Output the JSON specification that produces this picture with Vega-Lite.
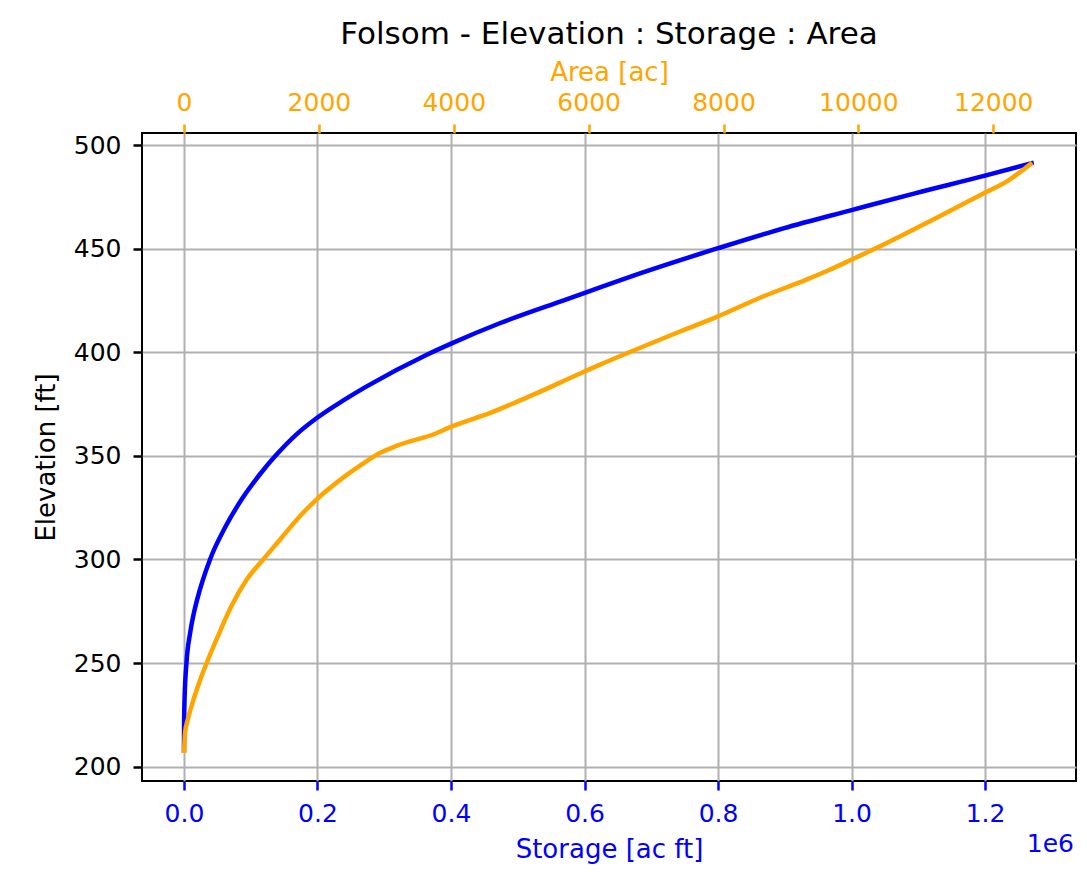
{
  "$schema": "https://vega.github.io/schema/vega-lite/v6.json",
  "autosize": {"type": "none"},
  "padding": {"left": 142, "top": 133, "right": 11, "bottom": 94},
  "width": 934,
  "height": 648,
  "background": "white",
  "config": {
    "font": "DejaVu Sans",
    "view": {"stroke": "black", "strokeWidth": 2},
    "axis": {
      "labelFont": "DejaVu Sans",
      "titleFont": "DejaVu Sans",
      "labelFontSize": 25,
      "titleFontSize": 26,
      "titleFontWeight": "normal",
      "domain": false,
      "gridColor": "#b0b0b0",
      "gridWidth": 2,
      "gridOpacity": 1,
      "tickSize": 9,
      "tickWidth": 2.5
    }
  },
  "title": {
    "text": "Folsom - Elevation : Storage : Area",
    "fontSize": 31,
    "font": "DejaVu Sans",
    "fontWeight": "normal",
    "color": "black",
    "offset": 8
  },
  "datasets": {
    "storage": [
      {"elevation": 206.7, "storage": 0},
      {"elevation": 218, "storage": 100},
      {"elevation": 232, "storage": 800},
      {"elevation": 250, "storage": 3700},
      {"elevation": 264.5, "storage": 9200},
      {"elevation": 274, "storage": 14700},
      {"elevation": 280.5, "storage": 19600},
      {"elevation": 300, "storage": 39000},
      {"elevation": 316, "storage": 62500},
      {"elevation": 328.8, "storage": 86000},
      {"elevation": 341.6, "storage": 115000},
      {"elevation": 350, "storage": 137000},
      {"elevation": 360.5, "storage": 169000},
      {"elevation": 368.5, "storage": 200000},
      {"elevation": 377, "storage": 240000},
      {"elevation": 383.4, "storage": 273000},
      {"elevation": 398.7, "storage": 363000},
      {"elevation": 404.3, "storage": 401000},
      {"elevation": 414, "storage": 473000},
      {"elevation": 425.2, "storage": 570000},
      {"elevation": 427.6, "storage": 591000},
      {"elevation": 438.9, "storage": 691000},
      {"elevation": 450.2, "storage": 800000},
      {"elevation": 459.8, "storage": 898000},
      {"elevation": 468.6, "storage": 1000000},
      {"elevation": 476.7, "storage": 1095000},
      {"elevation": 485.2, "storage": 1200000},
      {"elevation": 491.5, "storage": 1273000}
    ],
    "area": [
      {"elevation": 206.6, "area": 0},
      {"elevation": 216.2, "area": 15},
      {"elevation": 222.6, "area": 55},
      {"elevation": 230.7, "area": 125},
      {"elevation": 241.9, "area": 240},
      {"elevation": 251.6, "area": 355},
      {"elevation": 262, "area": 490},
      {"elevation": 277.3, "area": 700},
      {"elevation": 290.2, "area": 928},
      {"elevation": 300, "area": 1174},
      {"elevation": 309.5, "area": 1422},
      {"elevation": 319.1, "area": 1669},
      {"elevation": 328.8, "area": 1960},
      {"elevation": 339, "area": 2340},
      {"elevation": 348.4, "area": 2754},
      {"elevation": 350.5, "area": 2853},
      {"elevation": 354.8, "area": 3150},
      {"elevation": 360.9, "area": 3742},
      {"elevation": 364.1, "area": 3964},
      {"elevation": 370.6, "area": 4531},
      {"elevation": 379.4, "area": 5173},
      {"elevation": 390.7, "area": 5938},
      {"elevation": 393.9, "area": 6160},
      {"elevation": 400, "area": 6604},
      {"elevation": 409.9, "area": 7345},
      {"elevation": 417.2, "area": 7912},
      {"elevation": 426.8, "area": 8578},
      {"elevation": 434.9, "area": 9221},
      {"elevation": 439.7, "area": 9566},
      {"elevation": 444.5, "area": 9887},
      {"elevation": 450.9, "area": 10306},
      {"elevation": 463.0, "area": 11047},
      {"elevation": 476.7, "area": 11861},
      {"elevation": 483.1, "area": 12232},
      {"elevation": 491.5, "area": 12577}
    ],
    "note": [{"label": "1e6"}]
  },
  "layer": [
    {
      "data": {"name": "storage"},
      "mark": {"type": "line", "color": "#0000ff", "strokeWidth": 4.5, "interpolate": "monotone"},
      "encoding": {
        "x": {
          "field": "storage",
          "type": "quantitative",
          "scale": {"domain": [-62900, 1336300], "nice": false, "zero": false},
          "axis": {
            "orient": "bottom",
            "title": "Storage [ac ft]",
            "titleColor": "#0000ff",
            "labelColor": "#0000ff",
            "tickColor": "#0000ff",
            "values": [0, 200000, 400000, 600000, 800000, 1000000, 1200000],
            "labelExpr": "format(datum.value / 1000000, '.1f')",
            "labelPadding": 11,
            "titlePadding": 10,
            "grid": true
          }
        },
        "y": {
          "field": "elevation",
          "type": "quantitative",
          "scale": {"domain": [193.1, 505.8], "nice": false, "zero": false},
          "axis": {
            "title": "Elevation [ft]",
            "titleColor": "black",
            "labelColor": "black",
            "tickColor": "black",
            "values": [200, 250, 300, 350, 400, 450, 500],
            "labelPadding": 12,
            "titlePadding": 14,
            "grid": true
          }
        },
        "order": {"field": "elevation", "type": "quantitative"}
      }
    },
    {
      "data": {"name": "note"},
      "mark": {"type": "text", "color": "#0000ff", "fontSize": 25, "align": "right", "baseline": "middle", "dy": 63, "dx": -2},
      "encoding": {
        "text": {"field": "label"},
        "x": {"value": "width"},
        "y": {"value": "height"}
      }
    },
    {
      "data": {"name": "area"},
      "mark": {"type": "line", "color": "#ffa500", "strokeWidth": 4.5, "interpolate": "monotone"},
      "encoding": {
        "x": {
          "field": "area",
          "type": "quantitative",
          "scale": {"domain": [-623, 13227], "nice": false, "zero": false},
          "axis": {
            "orient": "top",
            "title": "Area [ac]",
            "titleColor": "#ffa500",
            "labelColor": "#ffa500",
            "tickColor": "#ffa500",
            "values": [0, 2000, 4000, 6000, 8000, 10000, 12000],
            "format": "d",
            "labelPadding": 9,
            "titlePadding": 5,
            "grid": false
          }
        },
        "y": {"field": "elevation", "type": "quantitative"},
        "order": {"field": "elevation", "type": "quantitative"}
      }
    }
  ],
  "resolve": {"scale": {"x": "independent"}, "axis": {"x": "independent"}}
}
